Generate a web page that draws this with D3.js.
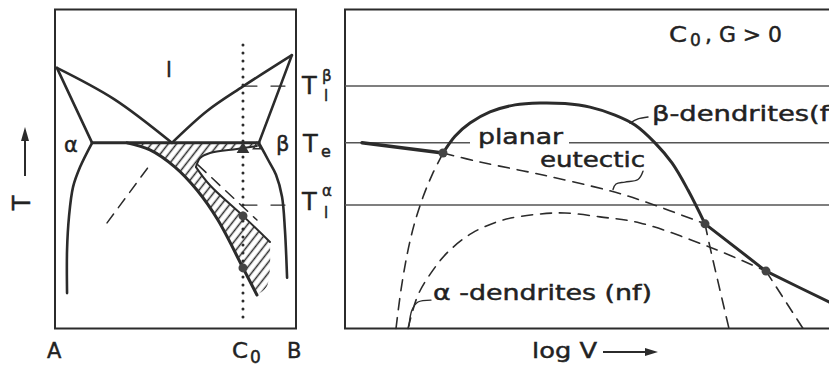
<!DOCTYPE html>
<html>
<head>
<meta charset="utf-8">
<script src="https://cdn.jsdelivr.net/npm/d3@7"></script>
<style>
  body { margin: 0; background: #fff; }
  svg text { font-family: "DejaVu Sans", sans-serif; fill: #222; stroke: #222; stroke-width: 0.45px; }
</style>
</head>
<body>
<div id="chart"></div>
<script>
// temperature levels (arbitrary units, shared by both panels)
const T_LIQ_BETA = 76, T_E = 58.2, T_LIQ_ALPHA = 38.7;
const C0 = 78;   // alloy composition (0 = A, 100 = B)

// left panel: phase diagram, [composition, T]
const liquidusA = [[0.8, 81.7], [24.5, 71.9], [48.5, 58.2]];
const liquidusB = [[98.3, 85.7], [78.0, 75.9], [63.1, 68.2], [48.5, 58.2]];
const solidusA  = [[0.8, 81.7], [15.4, 58.2]];
const solidusB  = [[98.3, 85.7], [91.3, 71.6], [84.6, 58.2]];
const solvusA   = [[15.4, 58.2], [10.4, 50.6], [7.5, 44.4], [5.8, 35.0], [5.0, 24.6], [5.0, 11.1]];
const solvusB   = [[84.6, 58.2], [88.4, 52.9], [91.7, 48.2], [94.2, 41.3], [95.4, 31.0], [96.3, 15.9]];
const eutecticLine = [[15.4, T_E], [84.6, T_E]];
// coupled zone
const zoneLower = [[29.9, 58.2], [39.4, 56.0], [49.8, 50.6], [58.9, 43.4], [67.6, 34.0], [78.0, 19.0], [83.8, 10.5]];
const zoneHookUpper = [[83.8, 57.2], [75.5, 56.3], [64.3, 55.0], [60.2, 53.4], [58.5, 50.6]];
const zoneHookLower = [[58.5, 50.6], [64.3, 44.9], [78.0, 35.3], [89.2, 27.1]];
const zoneOpenEdge = [[89.2, 27.1], [88.0, 13.3], [83.8, 10.5]];
// metastable extensions
const liqBExt = [[21.6, 33.1], [39.4, 51.3]];
const liqAExt = [[59.3, 51.3], [83.8, 34.0]];
const c0Dots = [[C0, 35.3], [C0, 19.0]];

// right panel: interface temperature vs log V, [logV, T]
const planar = [[3.4, 58.2], [19.6, 55.0]];
const betaDend = [[10.2, 0], [11.2, 12.1], [12.4, 23.0], [13.8, 32.4], [15.6, 41.2], [17.4, 48.1], [19.6, 55.0],
  [22.0, 60.3], [25.0, 64.4], [29.0, 67.9], [34.0, 70.1], [39.0, 70.7], [44.0, 70.5], [49.0, 69.4],
  [54.0, 66.9], [58.0, 63.8], [62.0, 58.2], [65.4, 51.9], [68.6, 43.4], [72.0, 32.8], [73.0, 25.5], [76.8, 0]];
const eutectic = [[19.6, 55.0], [27.0, 52.2], [39.6, 48.1], [52.4, 43.4], [59.0, 40.3], [72.0, 32.8], [84.2, 18.0], [91.6, 0]];
const alphaDend = [[12.6, 0], [14.6, 10.5], [17.6, 18.3], [20.6, 24.0], [25.4, 29.9], [31.6, 34.0], [39.0, 35.9],
  [44.0, 36.2], [51.0, 35.0], [59.0, 33.1], [73.0, 25.5], [84.2, 18.0], [96.8, 8.3], [101, 5.2]];
const crossings = [[19.6, 55.0], [72.0, 32.8], [84.2, 18.0]];

const svg = d3.select("#chart").append("svg")
  .attr("width", 829)
  .attr("height", 369);

const xL = d3.scaleLinear().domain([0, 100]).range([55, 296]);
const xV = d3.scaleLinear().domain([0, 100]).range([345, 845]);
const yT = d3.scaleLinear().domain([0, 100]).range([328.5, 9.5]);

const lineL = d3.line().x(d => xL(d[0])).y(d => yT(d[1])).curve(d3.curveCatmullRom);
const lineR = d3.line().x(d => xV(d[0])).y(d => yT(d[1])).curve(d3.curveCatmullRom);

const ink = "#2b2b2b";
const dash = "11,8";

// hatch pattern
svg.append("defs").append("pattern")
    .attr("id", "hatch")
    .attr("patternUnits", "userSpaceOnUse")
    .attr("width", 6.6)
    .attr("height", 10)
    .attr("patternTransform", "rotate(38)")
  .append("line")
    .attr("x1", 3.3).attr("y1", 0)
    .attr("x2", 3.3).attr("y2", 10)
    .attr("stroke", ink)
    .attr("stroke-width", 1.5);

function draw(path, w, dashed) {
  return svg.append("path")
    .attr("d", path)
    .attr("fill", "none")
    .attr("stroke", ink)
    .attr("stroke-width", w)
    .attr("stroke-linecap", "round")
    .attr("stroke-dasharray", dashed ? dash : null);
}

// ---------- left panel ----------
svg.append("rect")
  .attr("x", xL(0)).attr("y", yT(100))
  .attr("width", xL(100) - xL(0)).attr("height", yT(0) - yT(100))
  .attr("fill", "none").attr("stroke", ink).attr("stroke-width", 2);

const zoneD = "M" + xL(zoneLower[0][0]) + "," + yT(T_E) +
  "L" + xL(zoneHookUpper[0][0]) + "," + yT(T_E) +
  lineL(zoneHookUpper).replace("M", "L") +
  lineL(zoneHookLower).replace("M", "L") +
  lineL(zoneOpenEdge).replace("M", "L") +
  lineL(zoneLower.slice().reverse()).replace("M", "L") + "Z";
svg.append("path").attr("d", zoneD).attr("fill", "url(#hatch)");

[liquidusA, liquidusB, solidusA, solidusB, solvusA, solvusB].forEach(c => draw(lineL(c), 2.6));
draw(lineL(eutecticLine), 3);
draw(lineL(zoneLower), 3);
draw(lineL(zoneHookUpper), 2);
draw(lineL(zoneHookLower), 2);
draw(lineL(liqBExt), 1.5, true);
draw(lineL(liqAExt), 1.5, true);

// dashed level marks at C0
draw(lineL([[C0, T_LIQ_BETA], [96.7, T_LIQ_BETA]]), 1.3).attr("stroke-dasharray", "14,14");
draw(lineL([[C0, T_LIQ_ALPHA], [97.5, T_LIQ_ALPHA]]), 1.3).attr("stroke-dasharray", "14,14");

// dotted composition line
svg.append("line")
  .attr("x1", xL(C0)).attr("x2", xL(C0))
  .attr("y1", yT(88.9)).attr("y2", yT(2))
  .attr("stroke", ink).attr("stroke-width", 3)
  .attr("stroke-linecap", "round").attr("stroke-dasharray", "0,8");

svg.selectAll(".c0dot")
  .data(c0Dots)
  .join("circle")
    .attr("cx", d => xL(d[0])).attr("cy", d => yT(d[1]))
    .attr("r", 4.5).attr("fill", "#444");

svg.append("path")
  .attr("d", d3.symbol(d3.symbolTriangle, 70)())
  .attr("transform", `translate(${xL(C0)},${yT(56.2)})`)
  .attr("fill", "#333");
svg.append("path")
  .attr("d", d3.symbol(d3.symbolTriangle, 22)())
  .attr("transform", `translate(${xL(83.8)},${yT(57.0)})`)
  .attr("fill", "none").attr("stroke", "#333").attr("stroke-width", 1.5);

// left panel labels
svg.append("text").attr("x", 166).attr("y", 77).style("font-size", "21px").text("l");
svg.append("text").attr("x", 64).attr("y", 152).style("font-size", "21px").text("α");
svg.append("text").attr("x", 276).attr("y", 151).style("font-size", "21px").text("β");
svg.append("text").attr("x", 47).attr("y", 358).style("font-size", "21px").text("A");
svg.append("text").attr("x", 232).attr("y", 358).style("font-size", "21px")
  .attr("textLength", 16).attr("lengthAdjust", "spacingAndGlyphs").text("C");
svg.append("text").attr("x", 250).attr("y", 363).style("font-size", "17px").text("0");
svg.append("text").attr("x", 287).attr("y", 358).style("font-size", "21px").text("B");

svg.append("text")
  .attr("transform", "translate(30,203) rotate(-90)")
  .attr("text-anchor", "middle")
  .style("font-size", "24px").text("T");
svg.append("line").attr("x1", 25).attr("x2", 25).attr("y1", 176).attr("y2", 138)
  .attr("stroke", ink).attr("stroke-width", 2);
svg.append("path").attr("d", "M25,127L21,141L29,141Z").attr("fill", ink);

// temperature level labels
svg.append("text").attr("x", 302).attr("y", yT(T_LIQ_BETA) + 8).style("font-size", "24px").text("T");
svg.append("text").attr("x", 322).attr("y", yT(T_LIQ_BETA) - 5).style("font-size", "15px").text("β");
svg.append("text").attr("x", 324).attr("y", yT(T_LIQ_BETA) + 15).style("font-size", "15px").text("l");
svg.append("text").attr("x", 303).attr("y", yT(T_E) + 9).style("font-size", "24px").text("T");
svg.append("text").attr("x", 321).attr("y", yT(T_E) + 14).style("font-size", "16px").text("e");
svg.append("text").attr("x", 302).attr("y", yT(T_LIQ_ALPHA) + 5).style("font-size", "24px").text("T");
svg.append("text").attr("x", 322).attr("y", yT(T_LIQ_ALPHA) - 9).style("font-size", "15px").text("α");
svg.append("text").attr("x", 324).attr("y", yT(T_LIQ_ALPHA) + 13).style("font-size", "15px").text("l");

// ---------- right panel ----------
svg.append("path")
  .attr("d", `M${xV(100)},${yT(100)}L${xV(0)},${yT(100)}L${xV(0)},${yT(0)}L${xV(100)},${yT(0)}`)
  .attr("fill", "none").attr("stroke", ink).attr("stroke-width", 2);

[T_LIQ_BETA, T_E, T_LIQ_ALPHA].forEach(t => {
  svg.append("line")
    .attr("x1", xV(0)).attr("x2", xV(100))
    .attr("y1", yT(t)).attr("y2", yT(t))
    .attr("stroke", "#555").attr("stroke-width", 1.5);
});

svg.append("rect").attr("x", 470).attr("y", 128).attr("width", 99).attr("height", 21).attr("fill", "#fff");

// curves: solid where they lead, dashed elsewhere
draw(lineR(planar), 3.5);
draw(lineR(betaDend.slice(0, 7)), 1.6, true);
draw(lineR(betaDend.slice(6, 20)), 3);
draw(lineR(betaDend.slice(19)), 1.6, true);
draw(lineR(eutectic.slice(0, 6)), 1.6, true);
draw(lineR(eutectic.slice(5, 7)), 3);
draw(lineR(eutectic.slice(6)), 1.6, true);
draw(lineR(alphaDend.slice(0, 12)), 1.6, true);
draw(lineR(alphaDend.slice(11)), 3);

svg.selectAll(".cross")
  .data(crossings)
  .join("circle")
    .attr("cx", d => xV(d[0])).attr("cy", d => yT(d[1]))
    .attr("r", 4.5).attr("fill", "#444");

// leaders
draw(lineR([[12.8, 0.8], [13.4, 5.8], [14.6, 8.3], [17.2, 8.9]]), 1.4);
draw(lineR([[57.0, 64.4], [58.6, 65.7], [60.6, 66.3]]), 1.4);
draw(lineR([[59.6, 49.3], [58.6, 46.7], [56.0, 45.9], [54.2, 45.3], [53.6, 43.6]]), 1.4);

// right panel labels
function label(txt, x, y, w) {
  return svg.append("text").attr("x", x).attr("y", y)
    .style("font-size", "21px")
    .attr("textLength", w).attr("lengthAdjust", "spacingAndGlyphs")
    .text(txt);
}
label("planar", 478, 144, 85);
label("eutectic", 540, 167, 105);
label("β-dendrites(f)", 652, 121, 188);
label("α -dendrites (nf)", 433, 300, 219);
label("log V", 532, 358, 65);

svg.append("text").attr("x", 669).attr("y", 42).style("font-size", "21px")
  .attr("textLength", 18).attr("lengthAdjust", "spacingAndGlyphs").text("C");
svg.append("text").attr("x", 690).attr("y", 46).style("font-size", "17px").text("0");
svg.append("text").attr("x", 705).attr("y", 42).style("font-size", "21px")
  .attr("textLength", 77).attr("lengthAdjust", "spacingAndGlyphs").text(", G > 0");

svg.append("line").attr("x1", 603).attr("x2", 646).attr("y1", 352).attr("y2", 352)
  .attr("stroke", ink).attr("stroke-width", 2);
svg.append("path").attr("d", "M658,352L645,348L645,356Z").attr("fill", ink);
</script>
</body>
</html>
